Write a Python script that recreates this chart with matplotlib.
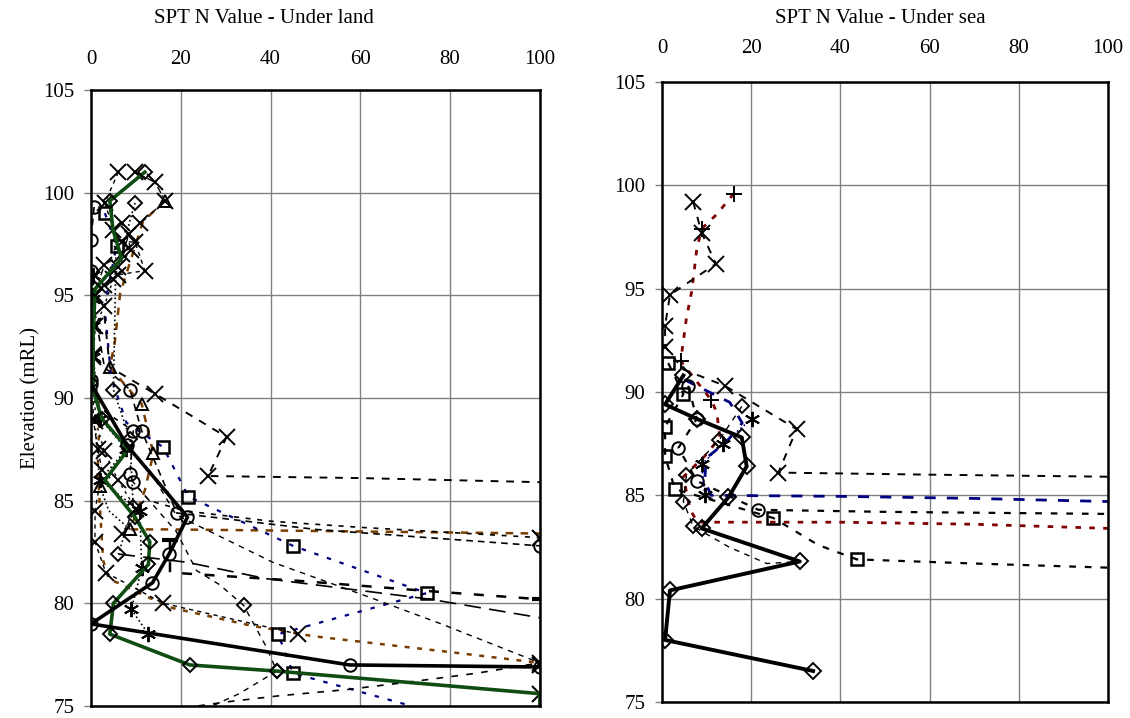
import matplotlib
matplotlib.use("Agg")
import matplotlib.pyplot as plt

# ---- under land: borehole SPT profiles (N value, elevation mRL) ----
land_bh1_n = [0, 8, 21.5, 17.4, 13.7, 0, 57.6, 100]
land_bh1_el = [90.7, 87.7, 84.2, 82.4, 81.0, 79.0, 77.0, 76.9]

land_bh2_n = [12, 4.2, 4.9, 6.8, 0.9, 0.5, 0.5, 2.4, 8.3, 3.1, 9.8, 13.1, 12.8, 5.0, 4.2, 22, 41.4, 100, 100]
land_bh2_el = [101, 99.6, 98.2, 96.8, 95.3, 93, 90.4, 89.0, 87.5, 86.0, 84.2, 83.0, 81.9, 80.0, 78.5, 77.0, 76.7, 75.6, 74.0]

land_bh3_n = [3, 4.2, 14.3, 30.2, 26.1, 60, 100]
land_bh3_el = [94, 91.5, 90.2, 88.1, 86.2, 86.1, 85.9]

land_bh4_n = [3.1, 5.7, 3.0, 4.5, 7.9, 16.1, 21.7, 45, 74.8, 41.7, 45, 78]
land_bh4_el = [99.0, 97.4, 94.5, 91.0, 88.8, 87.6, 85.2, 82.8, 80.5, 78.5, 76.6, 74.6]

land_bh5_n = [16.5, 11.6, 6.5, 5.3, 4.2, 11.3, 13.9, 12, 8.7, 17.6, 60, 100]
land_bh5_el = [99.6, 98.6, 95.1, 92.7, 91.5, 89.7, 87.3, 85.5, 83.6, 83.6, 83.5, 83.4]

land_bh6_n = [2, 1.5, 2.7, 4, 17.6, 36, 49.5, 81, 100]
land_bh6_el = [90, 86.5, 82.1, 81.2, 79.8, 78.9, 78.4, 77.6, 77.1]

land_bh7_n = [0.7, 0, 0, 1, 3, 8.7, 11.3, 19.1, 50, 100]
land_bh7_el = [99.3, 97.7, 96.2, 94, 91.5, 90.4, 88.4, 84.4, 83.6, 82.8]

land_bh8_n = [0, 2, 9.4, 8.7, 9.4, 13, 21, 40, 60, 100]
land_bh8_el = [90.9, 89.5, 88.4, 86.3, 85.9, 85, 84.5, 84.0, 83.7, 83.2]

land_bh9_n = [6.1, 21.4, 39.1, 75.5, 100]
land_bh9_el = [82.4, 82.0, 81.2, 80.2, 79.3]

land_bh10_n = [17.6, 17.6, 46, 75, 100]
land_bh10_el = [83.1, 81.5, 81.1, 80.6, 80.2]

land_bh11_n = [13, 19, 40.5, 62, 78, 100]
land_bh11_el = [86.5, 84.3, 82.0, 80.3, 79.0, 77.1]

land_bh12_n = [13.9, 20.5, 30.2, 42, 57, 72, 86, 100]
land_bh12_el = [74.8, 74.9, 75.2, 75.5, 75.8, 76.2, 76.6, 77.1]

land_bh13_n = [9, 19, 23.5, 28.7, 34, 39, 41.4, 33, 25]
land_bh13_el = [86, 83.5, 81.6, 80.9, 79.9, 77.9, 76.7, 75.6, 74.8]

land_bh14_n = [0.5, 0.5, 0.5, 0.5, 2, 7.9, 2, 10.9, 11.3, 9, 12.8]
land_bh14_el = [96, 94.8, 93.5, 92, 89, 87.5, 86, 84.5, 81.7, 79.7, 78.5]

land_bh15_n = [6.1, 3.1, 5, 7, 9.8, 12, 6, 3, 1, 0.5, 0.5, 0.5, 1.5, 2.5, 0.9, 0.9, 3.3, 16.1, 46.2]
land_bh15_el = [101, 99.5, 98.2, 97.6, 97.6, 96.2, 96.0, 95.5, 95, 93.5, 92, 89, 87.5, 86.5, 84.5, 83, 81.5, 80.0, 78.5]

land_bh16_n = [9.8, 14.3, 16.5, 11, 8.5, 7, 3, 1.5]
land_bh16_el = [101, 100.5, 99.6, 98.5, 98.0, 97.0, 96.5, 95.5]

land_bh17_n = [9.8, 8.5, 7.5, 5.5, 5, 8.7, 9.4, 6.1]
land_bh17_el = [99.5, 98.5, 97.5, 96, 90.4, 88.0, 84.7, 82.4]

land_bh18_n = [1, 2, 4, 8.7]
land_bh18_el = [88.5, 85.7, 84.5, 83.6]

land_bh19_n = [7, 9, 6, 5, 3, 1, 0.5, 1, 3, 6, 10, 7]
land_bh19_el = [98.5, 97.2, 96.4, 95.8, 94.5, 93.5, 92.1, 88.9, 87.4, 86.0, 84.6, 83.4]

land_end_n = [100, 100, 100]
land_end_el = [83.2, 75.6, 77.0]

# ---- under sea ----
sea_bh1_n = [16.1, 12.3, 8.9, 7.8, 6.7, 5.5, 4.2, 11.1, 12.3, 13, 9.6, 4.8, 6.3, 8, 40, 70, 100]
sea_bh1_el = [99.6, 98.6, 97.9, 96.9, 94.9, 93.6, 91.5, 89.6, 89.0, 87.8, 86.9, 85.9, 84.3, 83.7, 83.7, 83.6, 83.4]

sea_bh2_n = [7, 8.9, 12.1, 1.8, 0.7, 0.7, 4.7, 14.1, 30.2, 26.1, 60, 100]
sea_bh2_el = [99.2, 97.7, 96.2, 94.7, 93.2, 92.2, 91.1, 90.3, 88.2, 86.1, 86.0, 85.9]

sea_bh3_n = [4.8, 0.7, 7.8, 17.9, 19.0, 14.9, 8.9, 30.9, 1.8, 0.7, 33.9]
sea_bh3_el = [90.8, 89.4, 88.7, 87.8, 86.4, 84.9, 83.4, 81.8, 80.4, 78.0, 76.5]

sea_bh4_n = [5, 15.2, 18, 14.5, 9.9, 9.6, 11, 40, 70, 100]
sea_bh4_el = [90.6, 89.5, 88.5, 87.6, 86.8, 85.7, 85.0, 84.95, 84.85, 84.7]

sea_bh5_n = [5.9, 7.8, 3.7, 7.8, 21.6, 50, 100]
sea_bh5_el = [90.3, 88.7, 87.3, 85.7, 84.3, 84.2, 84.1]

sea_bh6_n = [1.4, 4.8, 0.7, 0.7, 2.9, 25, 35, 43.7, 70, 100]
sea_bh6_el = [91.4, 89.9, 88.3, 86.9, 85.3, 83.9, 82.6, 81.9, 81.7, 81.5]

sea_bh7_n = [17.9, 12.9, 5.5, 4.8, 7.0, 15, 23.5, 30.9]
sea_bh7_el = [89.3, 87.7, 86.0, 84.7, 83.5, 82.5, 81.7, 81.8]

sea_bh8_n = [20.1, 13.7, 8.9, 9.6]
sea_bh8_el = [88.7, 87.5, 86.5, 85.0]

N_TICKS = [0, 20, 40, 60, 80, 100]
EL_TICKS = [75, 80, 85, 90, 95, 100, 105]

BLACK = "#000000"
GREEN = "#0f4d12"
NAVY = "#000080"
BROWN = "#7a3d00"
DRED = "#800000"
ASTER = (6, 2, 0)
FONT = ["Liberation Serif", "DejaVu Serif"]
FS = 15

plt.rcParams["font.family"] = FONT
plt.rcParams["font.size"] = FS


def draw(ax, x, y, color=BLACK, ls="--", lw=1.0, marker=None, every=None,
         ms=8, mew=1.4, dashes=None, z=2):
    kw = dict(color=color, lw=lw, marker=marker, ms=ms, mew=mew,
              mfc="none", mec=BLACK, zorder=z)
    if every is not None:
        kw["markevery"] = every
    line, = ax.plot(x, y, ls, **kw)
    if dashes is not None:
        line.set_dashes(dashes)
    return line


def style(ax, label, xpad, label_xy):
    ax.set_xlim(0, 100)
    ax.set_ylim(75, 105)
    ax.set_xticks(N_TICKS)
    ax.set_yticks(EL_TICKS)
    ax.xaxis.tick_top()
    ax.xaxis.set_label_position("top")
    ax.set_xlabel(label, fontsize=FS)
    ax.xaxis.set_label_coords(*label_xy)
    ax.tick_params(axis="x", length=0, pad=xpad, labelsize=FS)
    ax.tick_params(axis="y", length=5, width=1, color="#808080", pad=7, labelsize=FS)
    ax.grid(True, color="#808080", lw=1.0)
    ax.set_axisbelow(True)
    for s in ax.spines.values():
        s.set_color(BLACK)
        s.set_linewidth(1.8)
        s.set_zorder(5)


fig = plt.figure(figsize=(11.3, 7.18), dpi=100)
ax1 = fig.add_axes([0.0805, 0.0167, 0.3973, 0.858])
ax2 = fig.add_axes([0.5858, 0.0223, 0.3947, 0.8635])

# ---- left panel ----
draw(ax1, land_bh6_n, land_bh6_el, color=BROWN, ls=":", lw=1.8, dashes=(2, 3))
draw(ax1, land_bh5_n, land_bh5_el, color=BROWN, lw=1.8, marker="^", ms=9, every=[0, 4, 5, 6, 8], dashes=(3, 3))
draw(ax1, land_bh4_n, land_bh4_el, color=NAVY, ls=":", lw=1.6, marker="s", ms=9, every=[0, 1, 5, 6, 7, 8, 9, 10], mew=1.8, dashes=(2, 4))
draw(ax1, land_bh3_n, land_bh3_el, lw=1.4, marker="x", ms=11, every=[2, 3, 4], dashes=(4, 4))
draw(ax1, land_bh7_n, land_bh7_el, lw=1.2, marker="o", ms=9, every=[0, 1, 2, 5, 6, 7, 9], dashes=(4, 3))
draw(ax1, land_bh8_n, land_bh8_el, lw=1.2, marker="o", ms=9, every=[0, 2, 3, 4], dashes=(3, 4))
draw(ax1, land_bh9_n, land_bh9_el, lw=1.2, marker="D", ms=7, every=[0], dashes=(10, 5))
draw(ax1, land_bh10_n, land_bh10_el, lw=1.8, marker="_", ms=11, mew=3, every=[0, 4], dashes=(4, 5))
draw(ax1, land_bh11_n, land_bh11_el, lw=1.0, marker="x", ms=11, every=[5], dashes=(4, 4))
draw(ax1, land_bh12_n, land_bh12_el, lw=1.2, dashes=(4, 5))
draw(ax1, land_bh13_n, land_bh13_el, lw=1.0, marker="D", ms=7, every=[4, 6], dashes=(4, 4))
draw(ax1, land_bh14_n, land_bh14_el, ls=":", lw=1.2, marker=ASTER, ms=11)
draw(ax1, land_bh15_n, land_bh15_el, lw=1.0, marker="x", ms=11, dashes=(3, 3))
draw(ax1, land_bh16_n, land_bh16_el, lw=1.0, marker="x", ms=11, dashes=(5, 2, 1, 2))
draw(ax1, land_bh17_n, land_bh17_el, ls=":", lw=1.2, marker="D", ms=7, every=[0, 4, 5, 6])
draw(ax1, land_bh18_n, land_bh18_el, ls=":", lw=1.2, marker="^", ms=9, every=[1])
draw(ax1, land_bh19_n, land_bh19_el, lw=1.0, marker="x", ms=11, dashes=(2, 3))
draw(ax1, land_end_n, land_end_el, ls="none", marker="x", ms=11, mew=1.5)
draw(ax1, land_bh2_n, land_bh2_el, color=GREEN, ls="-", lw=2.6, marker="D", ms=7,
     every=[0, 1, 4, 7, 10, 11, 12, 13, 14, 15, 16], z=3)
draw(ax1, land_bh1_n, land_bh1_el, ls="-", lw=2.6, marker="o", ms=9, z=4)
ax1.set_ylabel("Elevation (mRL)", fontsize=FS, labelpad=2)
style(ax1, "SPT N Value - Under land", 15, (0.385, 1.108))

# ---- right panel ----
draw(ax2, sea_bh1_n, sea_bh1_el, color=DRED, ls=":", lw=2.0, marker="+", ms=12, every=[0, 2, 6, 7], dashes=(2, 3))
draw(ax2, sea_bh2_n, sea_bh2_el, lw=1.4, marker="x", ms=11, every=[0, 1, 2, 3, 4, 5, 7, 8, 9], dashes=(4, 4))
draw(ax2, sea_bh4_n, sea_bh4_el, color=NAVY, lw=2.0, dashes=(4, 4))
draw(ax2, sea_bh5_n, sea_bh5_el, lw=1.6, marker="o", ms=9, every=[0, 1, 2, 3, 4], dashes=(3, 4))
draw(ax2, sea_bh6_n, sea_bh6_el, lw=1.6, marker="s", ms=9, mew=1.8, every=[0, 1, 2, 3, 4, 5, 7], dashes=(3, 4))
draw(ax2, sea_bh7_n, sea_bh7_el, lw=1.0, marker="D", ms=7, every=[0, 1, 2, 3, 4], dashes=(4, 4))
draw(ax2, sea_bh8_n, sea_bh8_el, color=NAVY, ls=":", lw=1.2, marker=ASTER, ms=11)
draw(ax2, sea_bh3_n, sea_bh3_el, ls="-", lw=2.8, marker="D", ms=8, z=4)
style(ax2, "SPT N Value - Under sea", 17, (0.489, 1.095))

fig.savefig("out.png", dpi=100)
